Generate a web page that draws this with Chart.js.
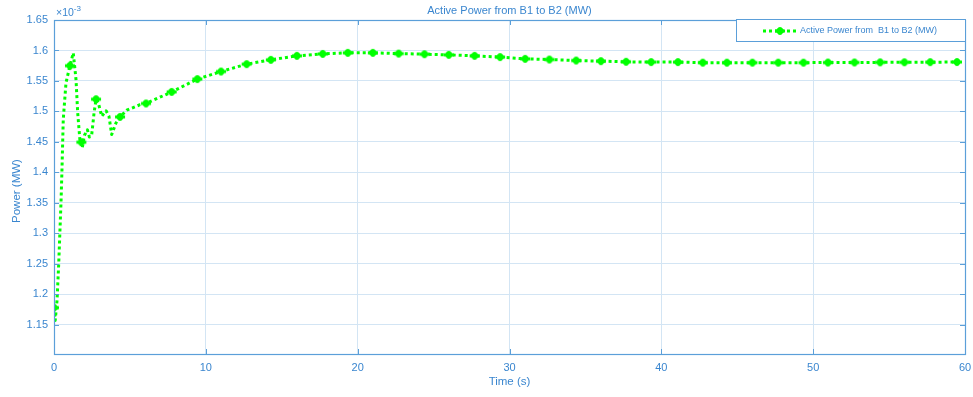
<!DOCTYPE html>
<html>
<head>
<meta charset="utf-8">
<script src="https://cdn.jsdelivr.net/npm/chart.js@4.4.1/dist/chart.umd.min.js"></script>
<style>
  html, body { margin: 0; padding: 0; background: #ffffff; }
  #wrap { width: 973px; height: 397px; }
</style>
</head>
<body>
<div id="wrap"><canvas id="c" width="973" height="397"></canvas></div>
<script>
// Simulation time (s)
const timeS = [
  0, 0.08, 0.2, 0.31, 0.46, 0.52, 0.61, 0.79, 1.05, 1.27,
  1.45, 1.56, 1.7, 1.8, 1.86, 2.0, 2.2, 2.33, 2.48, 2.64,
  2.77, 2.92, 3.14, 3.43, 3.62, 3.8, 4.08, 4.35, 4.79, 5.67,
  6.06, 7.75, 9.44, 11.0, 12.69, 14.28, 16.0, 17.7, 19.35, 21.0,
  22.7, 24.4, 26.0, 27.7, 29.38, 31.03, 32.63, 34.39, 36.02, 37.68,
  39.33, 41.09, 42.73, 44.32, 46.0, 47.7, 49.36, 50.97, 52.72, 54.41,
  56.01, 57.71, 59.47
];

// Active power B1 -> B2, in units of 1e-3 MW
const powerE3 = [
  1.178, 1.157, 1.19, 1.25, 1.35, 1.40, 1.487, 1.547, 1.575, 1.596,
  1.552, 1.498, 1.455, 1.4495, 1.440, 1.4605, 1.470, 1.458, 1.461, 1.498,
  1.520, 1.514, 1.492, 1.501, 1.492, 1.462, 1.481, 1.491, 1.502, 1.511,
  1.513, 1.532, 1.553, 1.5655, 1.5776, 1.5846, 1.5912, 1.5944, 1.5961, 1.5961,
  1.5949, 1.5939, 1.5928, 1.5912, 1.5891, 1.5863, 1.5851, 1.5835, 1.5825, 1.5814,
  1.5809, 1.5809, 1.5800, 1.5800, 1.5800, 1.5800, 1.5800, 1.5802, 1.5803, 1.5805,
  1.5806, 1.5808, 1.5810
];

// Samples that carry a marker
const markerIndex = [0, 8, 13, 20, 27].concat(
  Array.from({ length: timeS.length - 30 }, (_, k) => 30 + k)
);

const yTicks = [1.15, 1.2, 1.25, 1.3, 1.35, 1.4, 1.45, 1.5, 1.55, 1.6, 1.65];
const xTicks = [0, 10, 20, 30, 40, 50, 60];

const seriesName = 'Active Power from  B1 to B2 (MW)';
const chartTitle = 'Active Power from B1 to B2 (MW)';
const xTitle = 'Time (s)';
const yTitle = 'Power (MW)';

const GREEN = '#00ff00';
const BLUE = '#3a86cf';
const AXIS = '#5b9fd9';
const GRID = '#d3e5f4';
const FONT = '"Liberation Sans", Arial, Helvetica, sans-serif';

// Filled plus-shaped marker
function makeMarker() {
  const c = document.createElement('canvas');
  c.width = 12; c.height = 10;
  const g = c.getContext('2d');
  g.fillStyle = GREEN;
  g.beginPath(); g.arc(6, 5, 3.4, 0, Math.PI * 2); g.fill();
  g.fillRect(1, 3.5, 10, 3);
  g.fillRect(4.5, 1.2, 3, 7.6);
  return c;
}
const marker = makeMarker();

const points = timeS.map((t, i) => ({ x: t, y: powerE3[i] }));

const overlay = {
  id: 'overlay',
  afterDraw(chart) {
    const { ctx, chartArea: a, scales } = chart;
    ctx.save();

    // inner tick marks
    ctx.strokeStyle = AXIS; ctx.lineWidth = 1;
    ctx.beginPath();
    xTicks.forEach(v => {
      const x = Math.round(scales.x.getPixelForValue(v)) + 0.5;
      ctx.moveTo(x, a.bottom); ctx.lineTo(x, a.bottom - 5);
      ctx.moveTo(x, a.top); ctx.lineTo(x, a.top + 5);
    });
    yTicks.forEach(v => {
      const y = Math.round(scales.y.getPixelForValue(v)) + 0.5;
      ctx.moveTo(a.left, y); ctx.lineTo(a.left + 5, y);
      ctx.moveTo(a.right, y); ctx.lineTo(a.right - 5, y);
    });
    ctx.stroke();

    // axes box
    ctx.strokeStyle = AXIS; ctx.lineWidth = 1.2;
    ctx.strokeRect(Math.round(a.left) + 0.5, Math.round(a.top) + 0.5,
      Math.round(a.right - a.left), Math.round(a.bottom - a.top));

    // title
    ctx.fillStyle = BLUE;
    ctx.textAlign = 'center'; ctx.textBaseline = 'middle';
    ctx.font = '11px ' + FONT;
    ctx.fillText(chartTitle, (a.left + a.right) / 2, 11);

    // axis titles
    ctx.font = '11.5px ' + FONT;
    ctx.fillText(xTitle, (a.left + a.right) / 2, 382);
    ctx.save();
    ctx.translate(17, (a.top + a.bottom) / 2 + 4);
    ctx.rotate(-Math.PI / 2);
    ctx.fillText(yTitle, 0, 0);
    ctx.restore();

    // exponent
    ctx.textAlign = 'left'; ctx.textBaseline = 'alphabetic';
    ctx.font = '10.5px ' + FONT;
    ctx.fillText('\u00d710', a.left + 2, 16);
    const w = ctx.measureText('\u00d710').width;
    ctx.font = '8px ' + FONT;
    ctx.fillText('-3', a.left + 2 + w, 11);

    // legend
    const lx = 736, ly = 19, lw = Math.round(a.right) - 736, lh = 22;
    ctx.fillStyle = '#ffffff';
    ctx.fillRect(lx, ly, lw, lh);
    ctx.strokeStyle = AXIS; ctx.lineWidth = 1;
    ctx.strokeRect(lx + 0.5, ly + 0.5, lw, lh);
    const cy = ly + 12;
    ctx.strokeStyle = GREEN; ctx.lineWidth = 3;
    ctx.setLineDash([3, 3]);
    ctx.beginPath(); ctx.moveTo(763, cy); ctx.lineTo(796, cy); ctx.stroke();
    ctx.setLineDash([]);
    ctx.drawImage(marker, 780 - 6, cy - 5);
    ctx.fillStyle = BLUE;
    ctx.font = '9px ' + FONT;
    ctx.textBaseline = 'middle';
    ctx.fillText(seriesName, 800, cy);

    ctx.restore();
  }
};

new Chart(document.getElementById('c'), {
  type: 'line',
  data: {
    datasets: [{
      label: seriesName,
      data: points,
      borderColor: GREEN,
      backgroundColor: GREEN,
      borderWidth: 3,
      borderDash: [3, 3],
      borderCapStyle: 'butt',
      borderJoinStyle: 'round',
      tension: 0,
      fill: false,
      pointStyle: marker,
      pointRadius: ctx => markerIndex.includes(ctx.dataIndex) ? 4 : 0,
      pointHoverRadius: 0
    }]
  },
  options: {
    responsive: false,
    animation: false,
    devicePixelRatio: 1,
    layout: { padding: { top: 20, right: 8, left: 0, bottom: 0 } },
    plugins: {
      legend: { display: false },
      title: { display: false },
      tooltip: { enabled: false }
    },
    scales: {
      x: {
        type: 'linear',
        min: 0, max: 60,
        afterBuildTicks: s => { s.ticks = xTicks.map(v => ({ value: v })); },
        afterFit: s => { s.height = 43; s.paddingLeft = 0; s.paddingRight = 0; },
        grid: { color: GRID, lineWidth: 1, drawTicks: false },
        border: { display: false },
        ticks: {
          color: BLUE, padding: 7, maxRotation: 0,
          font: { family: FONT, size: 11 },
          callback: v => String(v)
        }
      },
      y: {
        type: 'linear',
        min: 1.102, max: 1.65,
        afterBuildTicks: s => { s.ticks = yTicks.map(v => ({ value: v })); },
        afterFit: s => { s.width = 54; s.paddingTop = 0; s.paddingBottom = 0; },
        grid: { color: GRID, lineWidth: 1, drawTicks: false },
        border: { display: false },
        ticks: {
          color: BLUE, padding: 6,
          font: { family: FONT, size: 11 },
          callback: v => String(Number(v.toFixed(2)))
        }
      }
    }
  },
  plugins: [overlay]
});
</script>
</body>
</html>
